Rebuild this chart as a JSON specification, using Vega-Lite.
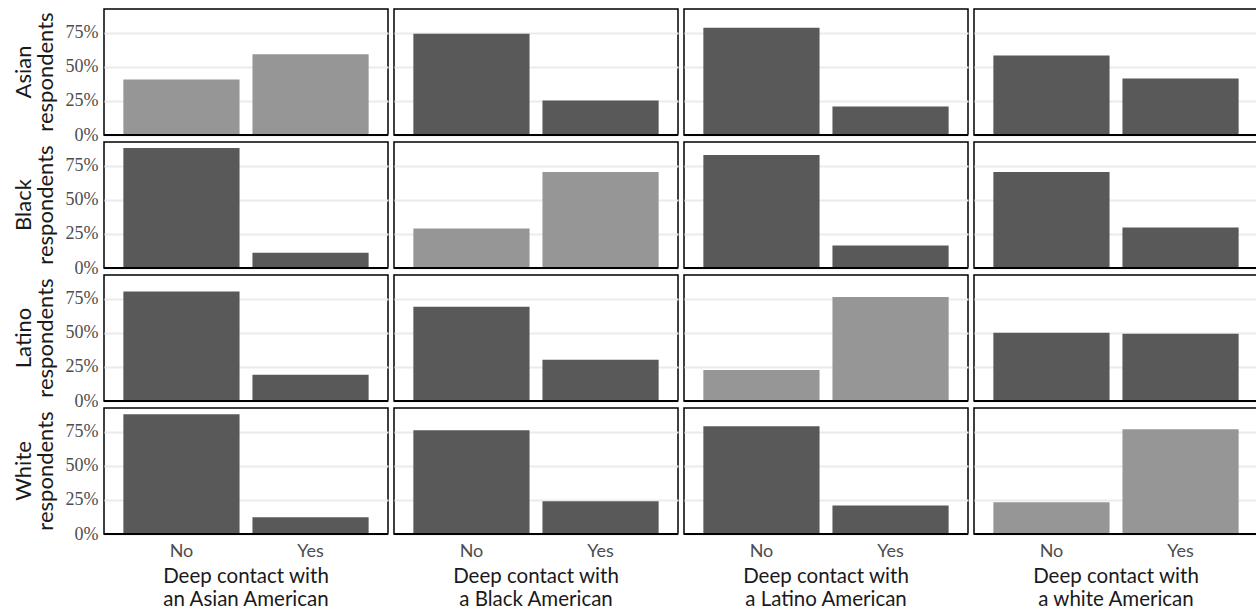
{
  "$schema": "https://vega.github.io/schema/vega-lite/v6.json",
  "padding": {"left": 13, "top": 8, "right": 0, "bottom": 0},
  "background": "white",
  "data": {"values": [
    {"resp": "Asian", "contact": "an Asian American", "deep": "No", "share": 0.408, "same": "yes"},
    {"resp": "Asian", "contact": "an Asian American", "deep": "Yes", "share": 0.593, "same": "yes"},
    {"resp": "Asian", "contact": "a Black American", "deep": "No", "share": 0.745, "same": "no"},
    {"resp": "Asian", "contact": "a Black American", "deep": "Yes", "share": 0.254, "same": "no"},
    {"resp": "Asian", "contact": "a Latino American", "deep": "No", "share": 0.789, "same": "no"},
    {"resp": "Asian", "contact": "a Latino American", "deep": "Yes", "share": 0.21, "same": "no"},
    {"resp": "Asian", "contact": "a white American", "deep": "No", "share": 0.584, "same": "no"},
    {"resp": "Asian", "contact": "a white American", "deep": "Yes", "share": 0.415, "same": "no"},
    {"resp": "Black", "contact": "an Asian American", "deep": "No", "share": 0.882, "same": "no"},
    {"resp": "Black", "contact": "an Asian American", "deep": "Yes", "share": 0.112, "same": "no"},
    {"resp": "Black", "contact": "a Black American", "deep": "No", "share": 0.29, "same": "yes"},
    {"resp": "Black", "contact": "a Black American", "deep": "Yes", "share": 0.706, "same": "yes"},
    {"resp": "Black", "contact": "a Latino American", "deep": "No", "share": 0.83, "same": "no"},
    {"resp": "Black", "contact": "a Latino American", "deep": "Yes", "share": 0.166, "same": "no"},
    {"resp": "Black", "contact": "a white American", "deep": "No", "share": 0.706, "same": "no"},
    {"resp": "Black", "contact": "a white American", "deep": "Yes", "share": 0.297, "same": "no"},
    {"resp": "Latino", "contact": "an Asian American", "deep": "No", "share": 0.804, "same": "no"},
    {"resp": "Latino", "contact": "an Asian American", "deep": "Yes", "share": 0.193, "same": "no"},
    {"resp": "Latino", "contact": "a Black American", "deep": "No", "share": 0.693, "same": "no"},
    {"resp": "Latino", "contact": "a Black American", "deep": "Yes", "share": 0.304, "same": "no"},
    {"resp": "Latino", "contact": "a Latino American", "deep": "No", "share": 0.228, "same": "yes"},
    {"resp": "Latino", "contact": "a Latino American", "deep": "Yes", "share": 0.765, "same": "yes"},
    {"resp": "Latino", "contact": "a white American", "deep": "No", "share": 0.502, "same": "no"},
    {"resp": "Latino", "contact": "a white American", "deep": "Yes", "share": 0.495, "same": "no"},
    {"resp": "White", "contact": "an Asian American", "deep": "No", "share": 0.88, "same": "no"},
    {"resp": "White", "contact": "an Asian American", "deep": "Yes", "share": 0.123, "same": "no"},
    {"resp": "White", "contact": "a Black American", "deep": "No", "share": 0.762, "same": "no"},
    {"resp": "White", "contact": "a Black American", "deep": "Yes", "share": 0.24, "same": "no"},
    {"resp": "White", "contact": "a Latino American", "deep": "No", "share": 0.792, "same": "no"},
    {"resp": "White", "contact": "a Latino American", "deep": "Yes", "share": 0.21, "same": "no"},
    {"resp": "White", "contact": "a white American", "deep": "No", "share": 0.233, "same": "yes"},
    {"resp": "White", "contact": "a white American", "deep": "Yes", "share": 0.77, "same": "yes"}
  ]},
  "facet": {
    "row": {
      "field": "resp", "type": "nominal",
      "sort": ["Asian", "Black", "Latino", "White"],
      "title": null,
      "header": {
        "labelOrient": "left",
        "labelAngle": -90,
        "labelExpr": "[datum.value, 'respondents']",
        "labelFont": "Lato",
        "labelFontSize": 22,
        "labelLineHeight": 22,
        "labelColor": "#1a1a1a",
        "labelPadding": -3
      }
    },
    "column": {
      "field": "contact", "type": "nominal",
      "sort": ["an Asian American", "a Black American", "a Latino American", "a white American"],
      "title": null,
      "header": {
        "labelOrient": "bottom",
        "labelExpr": "['Deep contact with', datum.value]",
        "labelFont": "Lato",
        "labelFontSize": 20.5,
        "labelLineHeight": 23,
        "labelColor": "#1a1a1a",
        "labelPadding": 7
      }
    }
  },
  "spacing": {"row": 4, "column": 2},
  "spec": {
    "width": 284,
    "height": 126,
    "layer": [
      {
        "mark": {"type": "bar"},
        "encoding": {
          "x": {
            "field": "deep", "type": "nominal", "sort": ["No", "Yes"],
            "scale": {"paddingInner": 0.1, "paddingOuter": 0.15},
            "axis": {
              "title": null, "labelAngle": 0, "labelFont": "Lato", "labelFontSize": 18,
              "labelColor": "#4d4d4d", "ticks": false, "labelPadding": 6,
              "domain": false
            }
          },
          "y": {
            "field": "share", "type": "quantitative",
            "scale": {"domain": [0, 0.926], "nice": false, "zero": true},
            "axis": {
              "title": null, "values": [0, 0.25, 0.5, 0.75], "format": ".0%",
              "labelFont": "Liberation Serif", "labelFontSize": 18, "labelColor": "#4d4d4d",
              "ticks": false, "labelPadding": 4, "domain": false,
              "grid": true, "gridColor": "#ebebeb", "gridWidth": 2
            }
          },
          "color": {
            "field": "same", "type": "nominal",
            "scale": {"domain": ["yes", "no"], "range": ["#969696", "#595959"]},
            "legend": null
          }
        }
      },
      {
        "mark": {"type": "rule", "color": "#000000", "strokeWidth": 2},
        "encoding": {"y": {"datum": 0}}
      }
    ]
  },
  "config": {
    "view": {"stroke": "#000000", "strokeWidth": 1.5},
    "axisX": {"grid": false}
  }
}
